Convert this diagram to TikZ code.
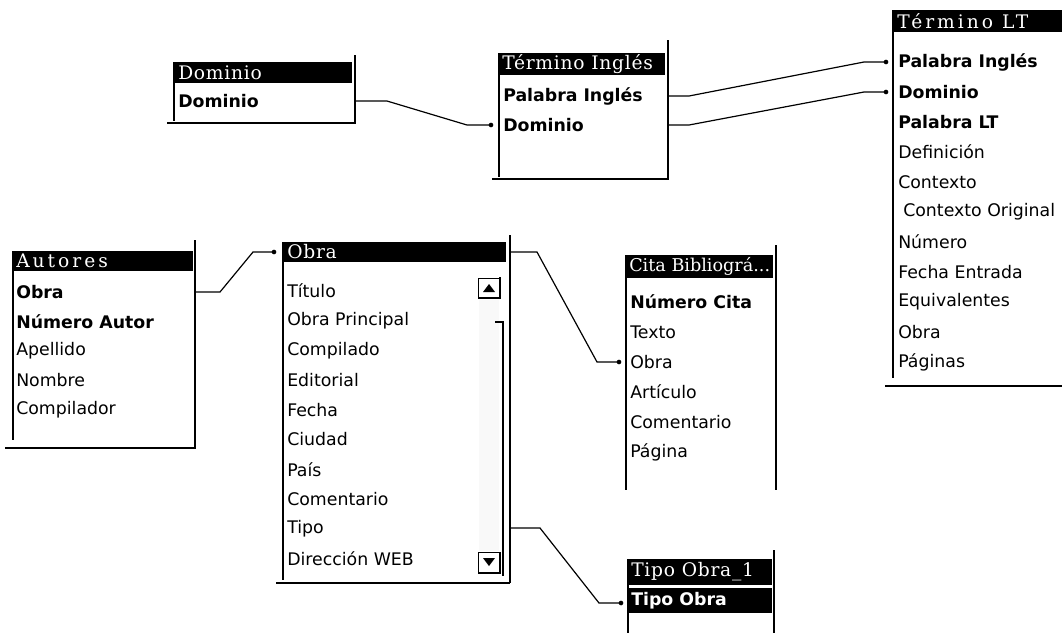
\documentclass[tikz,border=0pt]{standalone}
\usepackage{fontspec}
\setmainfont{DejaVu Sans}
\newfontfamily\titlefont[LetterSpace=4]{DejaVu Serif}
\newfontfamily\titlefontwide[LetterSpace=16]{DejaVu Serif}
\newfontfamily\titlefontnarrow[LetterSpace=0]{DejaVu Serif}
\usetikzlibrary{calc}
\tikzset{
  fld/.style={anchor=west, inner sep=0pt, font=\fontsize{13}{15}\selectfont},
  keyfld/.style={anchor=west, inner sep=0pt, font=\fontsize{13}{15}\selectfont\bfseries},
  ttl/.style={anchor=west, inner sep=0pt, text=white, font=\titlefont\fontsize{14}{16}\selectfont},
  ttlwide/.style={ttl, font=\titlefontwide\fontsize{14}{16}\selectfont},
  ttlnarrow/.style={ttl, font=\titlefontnarrow\fontsize{13.2}{15}\selectfont},
  bar/.style={fill=black},
  frame/.style={line width=1.5pt},
  conn/.style={line width=0.9pt},
  port/.style={circle, fill=black, inner sep=0pt, minimum size=3.5pt},
  btn/.style={line width=0.6pt},
}
\begin{document}
\begin{tikzpicture}[x=0.75pt,y=-0.75pt]
\useasboundingbox (0,0) rectangle (1062,633);
\fill[white] (0,0) rectangle (1062,633);

% ---------- Dominio ----------
\fill[bar] (173,62) rectangle (352,83);
\node[ttl] (domT) at (178,72.5) {Dominio};
\draw[frame] (174,83) -- (174,121);
\draw[frame] (167,123) -- (356,123);
\draw[frame] (355,55) -- (355,123);
\node[keyfld] (dom1) at (178,101) {Dominio};

% ---------- Termino Ingles ----------
\fill[bar] (498,53) rectangle (665,75);
\node[ttl] (tiT) at (502,64) {Término Inglés};
\draw[frame] (499,75) -- (499,177);
\draw[frame] (492,179) -- (669,179);
\draw[frame] (668,40) -- (668,179);
\node[keyfld] (ti1) at (503,96) {Palabra Inglés};
\node[keyfld] (ti2) at (503,125) {Dominio};

% ---------- Termino LT ----------
\fill[bar] (892,10) rectangle (1062,32);
\node[ttlwide] (ltT) at (897,21) {Término LT};
\draw[frame] (893,32) -- (893,378);
\draw[frame] (885,386) -- (1062,386);
\node[keyfld] (lt1) at (898,62) {Palabra Inglés};
\node[keyfld] (lt2) at (898,92) {Dominio};
\node[keyfld] (lt3) at (898,122) {Palabra LT};
\node[fld] (lt4) at (898,152) {Definición};
\node[fld] (lt5) at (898,182) {Contexto};
\node[fld] (lt6) at (903,212) {Contexto Original};
\node[fld] (lt7) at (898,242) {Número};
\node[fld] (lt8) at (898,272) {Fecha Entrada};
\node[fld] (lt9) at (898,302) {Equivalentes};
\node[fld] (lt10) at (898,332) {Obra};
\node[fld] (lt11) at (898,362) {Páginas};

% ---------- Autores ----------
\fill[bar] (12,251) rectangle (193,271);
\node[ttlwide] (auT) at (16,261) {Autores};
\draw[frame] (13,271) -- (13,440);
\draw[frame] (5,448) -- (196,448);
\draw[frame] (195,240) -- (195,448);
\node[keyfld] (au1) at (16,292) {Obra};
\node[keyfld] (au2) at (16,321.5) {Número Autor};
\node[fld] (au3) at (16,351) {Apellido};
\node[fld] (au4) at (16,380.5) {Nombre};
\node[fld] (au5) at (16,410) {Compilador};

% ---------- Obra ----------
\fill[bar] (282,242) rectangle (506,262);
\node[ttl] (obT) at (287,252) {Obra};
\draw[frame] (283,262) -- (283,580);
\draw[frame] (276,583) -- (510,583);
\draw[frame] (510,235) -- (510,583);
\node[fld] (ob1) at (287,291) {Título};
\node[fld] (ob2) at (287,320.7) {Obra Principal};
\node[fld] (ob3) at (287,350.4) {Compilado};
\node[fld] (ob4) at (287,380.1) {Editorial};
\node[fld] (ob5) at (287,409.8) {Fecha};
\node[fld] (ob6) at (287,439.5) {Ciudad};
\node[fld] (ob7) at (287,469.2) {País};
\node[fld] (ob8) at (287,498.9) {Comentario};
\node[fld] (ob9) at (287,528.6) {Tipo};
\node[fld] (ob10) at (287,558.3) {Dirección WEB};
% scroll bar
\fill[gray!5] (479,300) rectangle (499,551);
\draw[btn] (478,278) rectangle (499,298);
\draw[frame] (478,298) -- (500,298) -- (500,277);
\fill (483,292) -- (489,284) -- (495,292) -- cycle;
\draw[btn] (478,552) rectangle (499,573);
\draw[frame] (478,573) -- (500,573) -- (500,552);
\fill (483,558) -- (495,558) -- (489,566) -- cycle;
\draw[frame] (495,322) -- (503,322) -- (503,576);

% ---------- Cita Bibliografica ----------
\fill[bar] (625,255) rectangle (773,278);
\node[ttlnarrow] (ciT) at (629,266.5) {Cita Bibliográ...};
\draw[frame] (626,278) -- (626,490);
\draw[frame] (776,245) -- (776,490);
\node[keyfld] (ci1) at (630,302) {Número Cita};
\node[fld] (ci2) at (630,332) {Texto};
\node[fld] (ci3) at (630,362) {Obra};
\node[fld] (ci4) at (630,392) {Artículo};
\node[fld] (ci5) at (630,422) {Comentario};
\node[fld] (ci6) at (630,452) {Página};

% ---------- Tipo Obra_1 ----------
\fill[bar] (627,559) rectangle (772,585);
\node[ttl] (toT) at (631,572) {Tipo Obra\_1};
\fill[bar] (627,588) rectangle (772,613);
\node[keyfld, text=white] (to1) at (631,600.5) {Tipo Obra};
\draw[frame] (628,585) -- (628,633);
\draw[frame] (774,550) -- (774,633);

% ---------- ports ----------
\coordinate (domOut) at (356,101);
\coordinate (tiIn)   at (491,125);
\coordinate (ti1Out) at (669,96);
\coordinate (ti2Out) at (669,125);
\coordinate (lt1In)  at (886,62);
\coordinate (lt2In)  at (886,92);
\coordinate (auOut)  at (196,292);
\coordinate (obIn)   at (274,252);
\coordinate (obOut1) at (511,252);
\coordinate (ciIn)   at (619,362);
\coordinate (obOut2) at (511,528);
\coordinate (toIn)   at (621,603);

% ---------- connectors ----------
\draw[conn] (domOut) -- ++(31,0) -- ($(tiIn)+(-24,0)$) -- (tiIn);
\node[port] (pA) at (tiIn) {};
\draw[conn] (ti1Out) -- ++(20,0) -- ($(lt1In)+(-22,0)$) -- (lt1In);
\node[port] (pB) at (lt1In) {};
\draw[conn] (ti2Out) -- ++(20,0) -- ($(lt2In)+(-22,0)$) -- (lt2In);
\node[port] (pC) at (lt2In) {};
\draw[conn] (auOut) -- ++(24,0) -- ($(obIn)+(-21,0)$) -- (obIn);
\node[port] (pD) at (obIn) {};
\draw[conn] (obOut1) -- ++(26,0) -- ($(ciIn)+(-22,0)$) -- (ciIn);
\node[port] (pE) at (ciIn) {};
\draw[conn] (obOut2) -- ++(29,0) -- ($(toIn)+(-22,0)$) -- (toIn);
\node[port] (pF) at (toIn) {};
\end{tikzpicture}
\end{document}
